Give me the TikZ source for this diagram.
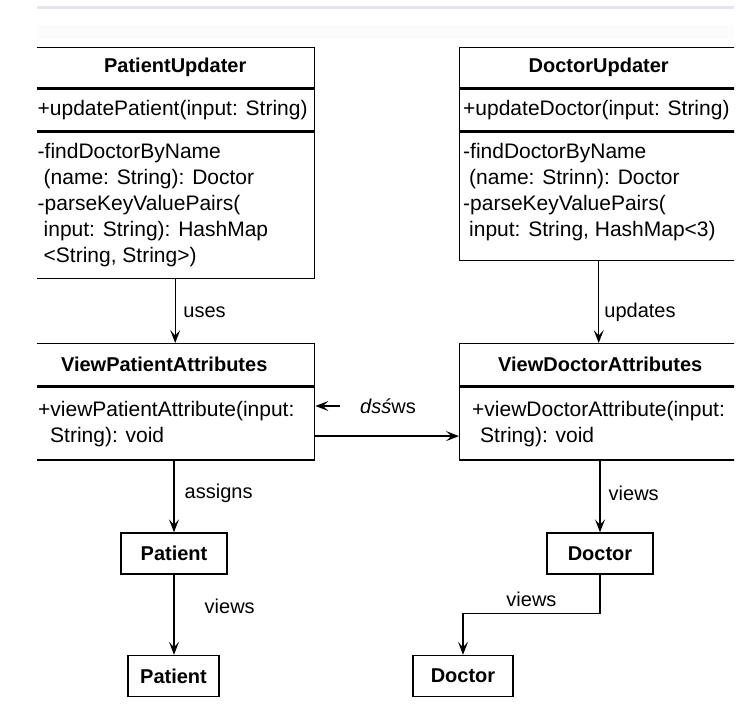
\documentclass[tikz,border=0pt]{standalone}
\usepackage{fontspec}
\setmainfont{Liberation Sans}
\usetikzlibrary{arrows.meta, positioning, calc}
\definecolor{rulegray}{RGB}{227,231,235}
\definecolor{bandgray}{RGB}{252,252,252}

\begin{document}
\begin{tikzpicture}[
    x=1pt, y=-1pt,
    box/.style={draw, line width=1.4pt, inner sep=0pt, anchor=north west},
    classname/.style={box, font=\bfseries\fontsize{20}{24}\selectfont},
    member/.style={font=\fontsize{21}{26}\selectfont, align=left, inner sep=0pt, anchor=west},
    lbl/.style={font=\fontsize{20}{24}\selectfont, inner sep=0pt},
    objbox/.style={draw, line width=1.4pt, minimum height=41pt, inner sep=0pt, font=\bfseries\fontsize{20}{24}\selectfont},
    link/.style={line width=1.4pt, -{Stealth[length=13pt, width=10pt, inset=5.5pt]}}
]
\useasboundingbox (0,0) rectangle (753,724);
\begin{scope}
\clip (37,0) rectangle (734,724);
\fill[bandgray] (0,25) rectangle (753,39);
\draw[rulegray, line width=2.5pt] (0,7.5) -- (753,7.5);

\node[classname, minimum width=279pt, minimum height=40pt] (pu) at (35,47) {PatientUpdater};
\node[box, minimum width=279pt, minimum height=42pt] (pu-ops) at (pu.south west) {};
\node[box, minimum width=279pt, minimum height=146pt] (pu-meth) at (pu-ops.south west) {};
\node[member] (pu-ops-t) at ([xshift=2.5pt]pu-ops.west) {+updatePatient(input: String)};
\node[member] (pu-meth-t) at ([xshift=2.5pt]pu-meth.west) {-findDoctorByName\\\hspace{6pt}(name: String): Doctor\\-parseKeyValuePairs(\\\hspace{6pt}input: String): HashMap\\\hspace{6pt}<String, String>)};

\node[classname, minimum width=278pt, minimum height=40pt] (du) at (459,47) {DoctorUpdater};
\node[box, minimum width=278pt, minimum height=42pt] (du-ops) at (du.south west) {};
\node[box, minimum width=278pt, minimum height=128pt] (du-meth) at (du-ops.south west) {};
\node[member] (du-ops-t) at ([xshift=4pt]du-ops.west) {+updateDoctor(input: String)};
\node[member] (du-meth-t) at ([xshift=4pt, yshift=4pt]du-meth.west) {-findDoctorByName\\\hspace{6pt}(name: Strinn): Doctor\\-parseKeyValuePairs(\\\hspace{6pt}input: String, HashMap<3)};

\node[classname, minimum width=301pt, minimum height=42pt] (vpa) at (13,343) {ViewPatientAttributes};
\node[box, minimum width=301pt, minimum height=73pt] (vpa-meth) at (vpa.south west) {};
\node[member] (vpa-meth-t) at ([xshift=25pt]vpa-meth.west) {+viewPatientAttribute(input:\\\hspace{12pt}String): void};

\node[classname, minimum width=281pt, minimum height=42pt] (vda) at (459,343) {ViewDoctorAttributes};
\node[box, minimum width=281pt, minimum height=73pt] (vda-meth) at (vda.south west) {};
\node[member] (vda-meth-t) at ([xshift=13pt]vda-meth.west) {+viewDoctorAttribute(input:\\\hspace{8pt}String): void};

\node[objbox, minimum width=106pt] (pat1) at (174,553.5) {Patient};
\node[objbox, minimum width=91pt] (pat2) at (173.5,676) {Patient};
\node[objbox, minimum width=106pt] (doc1) at (600,553.5) {Doctor};
\node[objbox, minimum width=100pt] (doc2) at (463,676) {Doctor};

\node[lbl, anchor=west] (dsws) at (360,406) {\itshape dsś\upshape ws};
\coordinate (dsws-tail) at ([xshift=-20pt]dsws.west);
\coordinate (bend) at ([yshift=-39pt]doc1.south);

\draw[link] (pu-meth.south) -- node[lbl, pos=0.52, right=7.5pt] {uses} (pu-meth.south |- vpa.north);
\draw[link] (du-meth.south) -- node[lbl, pos=0.62, right=5pt] {updates} (du-meth.south |- vda.north);
\draw[link] (dsws-tail) -- (dsws-tail -| vpa-meth.east);
\draw[link] ([yshift=-12.5pt]vpa-meth.east) -- ([yshift=-12.5pt]vda-meth.west);
\draw[link] (pat1.north |- vpa-meth.south) -- node[lbl, pos=0.45, right=10pt] {assigns} (pat1.north);
\draw[link] (pat1.south) -- node[lbl, pos=0.4, right=30pt] {views} (pat1.south |- pat2.north);
\draw[link] (doc1.north |- vda-meth.south) -- node[lbl, pos=0.45, right=8pt] {views} (doc1.north);
\draw[link] (doc1.south) -- (bend) -| node[lbl, pos=0.25, above=6pt] {views} (doc2.north);
\end{scope}
\end{tikzpicture}
\end{document}
